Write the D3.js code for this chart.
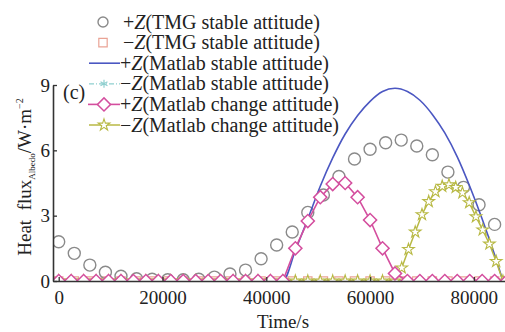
<!DOCTYPE html>
<html>
<head>
<meta charset="utf-8">
<script src="https://cdn.jsdelivr.net/npm/d3@7"></script>
<style>
  body { margin: 0; background: #fff; }
  svg { display: block; }
  text { font-family: "Liberation Serif", "Times New Roman", serif; fill: #222; }
</style>
</head>
<body>
<div id="chart"></div>
<script>
// TMG samples, every 3000 s
var tTMG = [0,3000,6000,9000,12000,15000,18000,21000,24000,27000,30000,33000,36000,39000,42000,
  45000,48000,51000,54000,57000,60000,63000,66000,69000,72000,75000,78000,81000,84000];
var tmgPlus = [1.8,1.27,0.73,0.4,0.22,0.1,0.08,0.06,0.06,0.08,0.18,0.32,0.5,1.02,1.65,
  2.25,3.15,3.95,4.8,5.6,6.05,6.35,6.47,6.2,5.8,5.0,4.3,3.5,2.6];
var tmgMinus = [0,0,0,0,0,0,0,0,0,0,0,0,0,0,0,0,0,0,0,0,0,0,0,0,0,0,0,0,0];

// Matlab stable attitude, +Z face
var tBlue = [0,43200,45600,48000,50400,52800,55200,57600,60000,62400,64800,67200,69600,72000,
  74400,76800,79200,81600,84000,85600];
var matlabPlusStable = [0,0,1.4,2.85,4.35,5.65,6.75,7.6,8.25,8.7,8.85,8.7,8.3,7.65,
  6.8,5.7,4.35,2.85,1.2,0];

// Matlab samples, every 2400 s
var tMatlab = [0,2400,4800,7200,9600,12000,14400,16800,19200,21600,24000,26400,28800,31200,
  33600,36000,38400,40800,43200,45600,48000,50400,52800,55200,57600,60000,62400,64800,
  67200,69600,72000,74400,76800,79200,81600,84000,86400];
var matlabMinusStable = [0,0,0,0,0,0,0,0,0,0,0,0,0,0,0,0,0,0,0,0,0,0,0,0,0,0,0,0,0,0,0,0,0,0,0,0,0];
var matlabPlusChange = [0,0,0,0,0,0,0,0,0,0,0,0,0,0,0,0,0,0,0,1.5,2.75,3.85,4.45,4.5,
  3.85,2.8,1.5,0.35,0,0,0,0,0,0,0,0,0];

// Matlab change attitude, -Z face
var tYellow = [0,2400,4800,7200,9600,12000,14400,16800,19200,21600,24000,26400,28800,31200,
  33600,36000,38400,40800,43200,45600,48000,50400,52800,55200,57600,60000,62400,64800,
  66100,67400,68700,70000,71300,72600,73900,75200,76500,77800,79100,80400,81700,83000,84300,85600];
var matlabMinusChange = [0,0,0,0,0,0,0,0,0,0,0,0,0,0,0,0,0,0,0,0,0,0,0,0,0,0,0,0,
  0.6,1.45,2.25,3.05,3.65,4.1,4.35,4.42,4.3,4.05,3.6,2.95,2.35,1.7,0.9,0];

var xTicks = [0,20000,40000,60000,80000];
var yTicks = [0,3,6,9];
var legendLabels = [
  ["+", "(TMG stable attitude)"],
  ["\u2212", "(TMG stable attitude)"],
  ["+", "(Matlab stable attitude)"],
  ["\u2212", "(Matlab stable attitude)"],
  ["+", "(Matlab change attitude)"],
  ["\u2212", "(Matlab change attitude)"]
];

var width = 505, height = 332;
var x = d3.scaleLinear().domain([-1100, 86000]).range([53, 505]);
var y = d3.scaleLinear().domain([0, 9]).range([281, 85]);

var svg = d3.select("#chart").append("svg")
  .attr("width", width)
  .attr("height", height);

svg.append("defs").append("clipPath").attr("id", "plot")
  .append("rect").attr("x", 53).attr("y", 70).attr("width", 452).attr("height", 211);

var grey = "#8a8a8a", salmon = "#eaa395", blue = "#4b57c2", cyan = "#8fcfcf",
    pink = "#d44e9e", olive = "#b8b944";

var diamond = d3.symbol().type(d3.symbolSquare).size(86);
var star = d3.symbol().type(d3.symbolStar).size(42);
var square = d3.symbol().type(d3.symbolSquare).size(70);
var aster = d3.symbol().type(d3.symbolAsterisk).size(45);

var plot = svg.append("g").attr("clip-path", "url(#plot)");

function pts(ts, vs) {
  return ts.map(function(t, i) { return [t, vs[i]]; });
}
var line = d3.line().x(function(d) { return x(d[0]); }).y(function(d) { return y(d[1]); });

// -Z Matlab stable
plot.append("path").datum(pts(tMatlab, matlabMinusStable))
  .attr("d", line).attr("fill", "none").attr("stroke", cyan)
  .attr("stroke-width", 1.2).attr("stroke-dasharray", "5,2,1,2");
plot.append("g").selectAll("path").data(pts(tMatlab, matlabMinusStable)).enter().append("path")
  .attr("d", aster)
  .attr("transform", function(d) { return "translate(" + x(d[0]) + "," + y(d[1]) + ")"; })
  .attr("fill", "none").attr("stroke", cyan).attr("stroke-width", 1);

// -Z TMG squares
plot.append("g").selectAll("path").data(pts(tTMG, tmgMinus)).enter().append("path")
  .attr("d", square)
  .attr("transform", function(d) { return "translate(" + x(d[0]) + "," + y(d[1]) + ")"; })
  .attr("fill", "none").attr("stroke", salmon).attr("stroke-width", 1.2);

// +Z TMG circles
plot.append("g").selectAll("circle").data(pts(tTMG, tmgPlus)).enter().append("circle")
  .attr("cx", function(d) { return x(d[0]); })
  .attr("cy", function(d) { return y(d[1]); })
  .attr("r", 6)
  .attr("fill", "none").attr("stroke", grey).attr("stroke-width", 1.4);

// +Z Matlab stable
plot.append("path").datum(pts(tBlue, matlabPlusStable))
  .attr("d", line.curve(d3.curveMonotoneX)).attr("fill", "none")
  .attr("stroke", blue).attr("stroke-width", 1.6);
line.curve(d3.curveLinear);

// -Z Matlab change attitude (stars)
plot.append("path").datum(pts(tYellow, matlabMinusChange))
  .attr("d", line).attr("fill", "none").attr("stroke", olive).attr("stroke-width", 1.5);
plot.append("g").selectAll("path").data(pts(tYellow, matlabMinusChange)).enter().append("path")
  .attr("d", star)
  .attr("transform", function(d) { return "translate(" + x(d[0]) + "," + y(d[1]) + ")"; })
  .attr("fill", "#fff").attr("stroke", olive).attr("stroke-width", 1.1);

// +Z Matlab change attitude (diamonds)
plot.append("path").datum(pts(tMatlab, matlabPlusChange))
  .attr("d", line).attr("fill", "none").attr("stroke", pink).attr("stroke-width", 1.6);
plot.append("g").selectAll("path").data(pts(tMatlab, matlabPlusChange)).enter().append("path")
  .attr("d", diamond)
  .attr("transform", function(d) { return "translate(" + x(d[0]) + "," + y(d[1]) + ") rotate(45)"; })
  .attr("fill", "#fff").attr("stroke", pink).attr("stroke-width", 1.5);

// axes
var xAxis = svg.append("g").attr("transform", "translate(0,281)")
  .call(d3.axisBottom(x).tickValues(xTicks).tickFormat(d3.format("d"))
    .tickSizeInner(-4).tickSizeOuter(0).tickPadding(10));
var yAxis = svg.append("g").attr("transform", "translate(53,0)")
  .call(d3.axisLeft(y).tickValues(yTicks).tickSizeInner(-4).tickSizeOuter(0).tickPadding(3));
[xAxis, yAxis].forEach(function(a) {
  a.select(".domain").attr("stroke", "#333").attr("stroke-width", 1.6);
  a.selectAll(".tick line").attr("stroke", "#333").attr("stroke-width", 1.3);
  a.selectAll("text").attr("font-size", 19).attr("fill", "#222")
    .style("font-family", '"Liberation Serif", serif');
});

svg.append("text").attr("x", 283).attr("y", 328).attr("text-anchor", "middle")
  .attr("font-size", 19).text("Time/s");

var yl = svg.append("text").attr("transform", "translate(31,177) rotate(-90)")
  .attr("text-anchor", "middle").attr("font-size", 19);
yl.append("tspan").text("Heat  flux").attr("xml:space", "preserve").style("white-space", "pre");
yl.append("tspan").attr("font-size", 9).attr("dy", 4).text("Albedo");
yl.append("tspan").attr("dy", -4).text("/W\u00b7m");
yl.append("tspan").attr("font-size", 10).attr("dy", -8).text("\u22122");

svg.append("text").attr("x", 63).attr("y", 99).attr("font-size", 20).text("(c)");

// legend
var lg = svg.append("g");
var rowY = function(i) { return 28.5 + i * 20.6; };
legendLabels.forEach(function(l, i) {
  var t = lg.append("text").attr("x", i < 2 ? 123 : 120).attr("y", rowY(i)).attr("font-size", 20);
  t.append("tspan").text(l[0]);
  t.append("tspan").attr("font-style", "italic").text("Z");
  t.append("tspan").text(l[1]);
});
var my = function(i) { return rowY(i) - 6.5; };
lg.append("circle").attr("cx", 103).attr("cy", my(0)).attr("r", 5)
  .attr("fill", "none").attr("stroke", grey).attr("stroke-width", 1.4);
lg.append("path").attr("d", square).attr("transform", "translate(103," + my(1) + ")")
  .attr("fill", "none").attr("stroke", salmon).attr("stroke-width", 1.2);
lg.append("line").attr("x1", 89).attr("x2", 120).attr("y1", my(2)).attr("y2", my(2))
  .attr("stroke", blue).attr("stroke-width", 1.6);
lg.append("line").attr("x1", 89).attr("x2", 120).attr("y1", my(3)).attr("y2", my(3))
  .attr("stroke", cyan).attr("stroke-width", 1.2).attr("stroke-dasharray", "5,2,1,2");
lg.append("path").attr("d", aster).attr("transform", "translate(104," + my(3) + ")")
  .attr("fill", "none").attr("stroke", cyan).attr("stroke-width", 1.2);
lg.append("line").attr("x1", 88).attr("x2", 120).attr("y1", my(4)).attr("y2", my(4))
  .attr("stroke", pink).attr("stroke-width", 1.6);
lg.append("path").attr("d", diamond).attr("transform", "translate(104," + my(4) + ") rotate(45)")
  .attr("fill", "#fff").attr("stroke", pink).attr("stroke-width", 1.5);
lg.append("line").attr("x1", 89).attr("x2", 120).attr("y1", my(5)).attr("y2", my(5))
  .attr("stroke", olive).attr("stroke-width", 1.5);
lg.append("path").attr("d", star).attr("transform", "translate(104," + my(5) + ")")
  .attr("fill", "#fff").attr("stroke", olive).attr("stroke-width", 1.1);
</script>
</body>
</html>
